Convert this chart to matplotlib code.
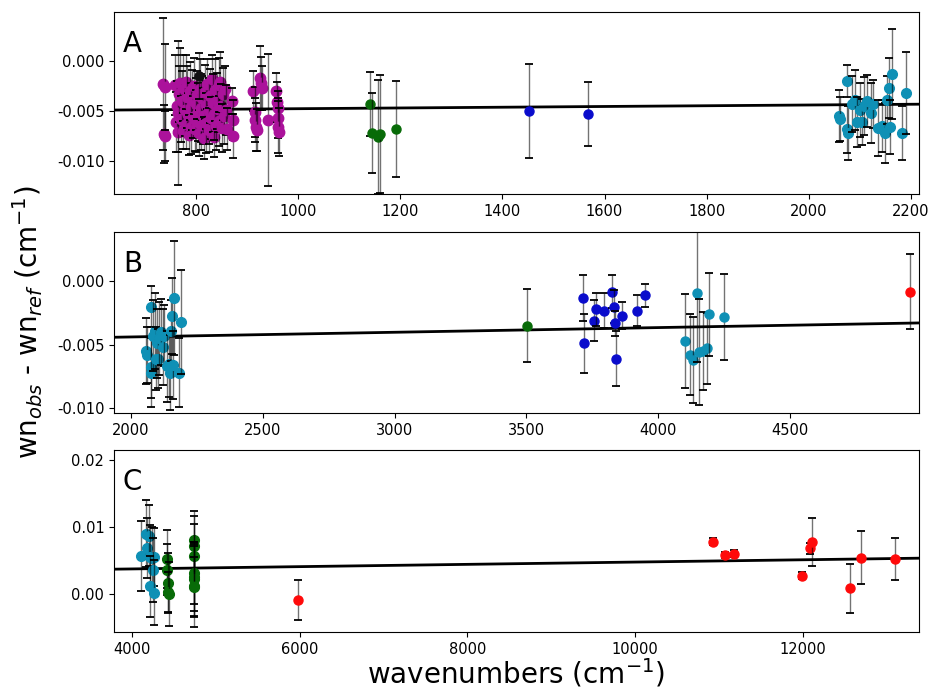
import matplotlib
matplotlib.use("Agg")
import matplotlib.pyplot as plt
from matplotlib.ticker import FormatStrFormatter

# ---------------- data ----------------
# magenta (panel A)
mag_x = [736, 738, 739, 740,
         760, 762, 763, 765, 766, 768, 770, 771, 773, 775, 776, 778, 780, 781, 783, 785,
         786, 788, 790, 791, 793, 795, 796, 798, 800, 801, 803, 805, 806, 808, 810, 811,
         813, 815, 816, 818, 820, 821, 823, 825, 826, 828, 830, 831, 833, 835, 836, 838,
         840, 841, 843, 845, 846, 848, 850, 851, 853, 855, 857, 859, 861,
         871, 872, 873,
         912, 915, 916, 918, 919, 925, 927, 929,
         941,
         958, 959, 960, 960, 961, 962]
mag_y = [-0.0023, -0.0073, -0.0075, -0.0026,
         -0.0024, -0.0061, -0.0045, -0.0071, -0.0052, -0.0033, -0.0022, -0.0058, -0.0040, -0.0070,
         -0.0027, -0.0049, -0.0021, -0.0063, -0.0036, -0.0054,
         -0.0074, -0.0030, -0.0046, -0.0066, -0.0039, -0.0056, -0.0025, -0.0068, -0.0043, -0.0060,
         -0.0034, -0.0051, -0.0072, -0.0028, -0.0047, -0.0064,
         -0.0037, -0.0055, -0.0077, -0.0031, -0.0044, -0.0062, -0.0023, -0.0050, -0.0069, -0.0035,
         -0.0057, -0.0018, -0.0042, -0.0076, -0.0053, -0.0029,
         -0.0065, -0.0040, -0.0048, -0.0024, -0.0060, -0.0021, -0.0045, -0.0067, -0.0033, -0.0055,
         -0.0028, -0.0049, -0.0068,
         -0.0040, -0.0059, -0.0075,
         -0.0030, -0.0051, -0.0059, -0.0066, -0.0069, -0.0017, -0.0022, -0.0027,
         -0.0059,
         -0.0030, -0.0041, -0.0047, -0.0057, -0.0066, -0.0071]
mag_e = [0.0066, 0.0029, 0.0025, 0.0043,
         0.0030, 0.0030, 0.0025, 0.0020, 0.0072, 0.0028, 0.0035, 0.0023, 0.0030, 0.0018,
         0.0033, 0.0026, 0.0027, 0.0025, 0.0031, 0.0022,
         0.0020, 0.0029, 0.0024, 0.0027, 0.0030, 0.0021, 0.0028, 0.0022, 0.0026, 0.0031,
         0.0024, 0.0029, 0.0023, 0.0030, 0.0034, 0.0025,
         0.0022, 0.0028, 0.0021, 0.0027, 0.0024, 0.0030, 0.0025, 0.0033, 0.0022, 0.0027,
         0.0021, 0.0024, 0.0029, 0.0020, 0.0026, 0.0031,
         0.0024, 0.0028, 0.0023, 0.0027, 0.0025, 0.0030, 0.0022, 0.0024, 0.0026, 0.0028,
         0.0023, 0.0025, 0.0021,
         0.0013, 0.0020, 0.0022,
         0.0020, 0.0025, 0.0022, 0.0024, 0.0021, 0.0032, 0.0026, 0.0022,
         0.0066,
         0.0018, 0.0020, 0.0017, 0.0020, 0.0026, 0.0024]

# black (panel A)
blk_x = [806]
blk_y = [-0.0015]
blk_e = [0.0023]

# green (panel A)
grnA_x = [1141, 1144, 1157, 1161, 1192]
grnA_y = [-0.0043, -0.0072, -0.0076, -0.0073, -0.0068]
grnA_e = [0.0032, 0.0040, 0.0057, 0.0059, 0.0048]

# blue (panel A)
bluA_x = [1453, 1568]
bluA_y = [-0.0050, -0.0053]
bluA_e = [0.0047, 0.0032]

# cyan (panels A and B)
cyn_x = [2058, 2061, 2074, 2074, 2077, 2084, 2090, 2094, 2100, 2103, 2107, 2113,
         2122, 2125, 2136, 2143, 2148, 2152, 2156, 2158, 2163, 2183, 2190]
cyn_y = [-0.0055, -0.0058, -0.0020, -0.0068, -0.0072, -0.0043, -0.0039, -0.0061,
         -0.0049, -0.0061, -0.0045, -0.0040, -0.0052, -0.0043, -0.0067, -0.0065,
         -0.0072, -0.0039, -0.0027, -0.0066, -0.0013, -0.0072, -0.0032]
cyn_e = [0.0026, 0.0022, 0.0016, 0.0024, 0.0027, 0.0028, 0.0030, 0.0025, 0.0027,
         0.0023, 0.0029, 0.0026, 0.0030, 0.0024, 0.0028, 0.0026, 0.0030, 0.0024,
         0.0030, 0.0027, 0.0045, 0.0027, 0.0041]

# green (panel B)
grnB_x = [3504]
grnB_y = [-0.0035]
grnB_e = [0.0029]

# blue (panel B)
bluB_x = [3715, 3719, 3756, 3766, 3796, 3827, 3832, 3836, 3842, 3863, 3920, 3949]
bluB_y = [-0.0013, -0.0049, -0.0031, -0.0022, -0.0023, -0.0008, -0.0020, -0.0033,
          -0.0061, -0.0027, -0.0023, -0.0011]
bluB_e = [0.0018, 0.0023, 0.0016, 0.0013, 0.0014, 0.0013, 0.0013, 0.0010, 0.0022,
          0.0011, 0.0012, 0.0009]

# cyan (panel B, right)
cynB_x = [4101, 4123, 4133, 4148, 4155, 4171, 4186, 4195, 4250]
cynB_y = [-0.0047, -0.0058, -0.0062, -0.0009, -0.0056, -0.0055, -0.0053, -0.0026, -0.0028]
cynB_e = [0.0037, 0.0032, 0.0034, 0.0055, 0.0042, 0.0031, 0.0028, 0.0033, 0.0034]

# red (panel B)
redB_x = [4955]
redB_y = [-0.0008]
redB_e = [0.0030]

# cyan (panel C)
cynC_x = [4112, 4172, 4180, 4205, 4215, 4235, 4259, 4251, 4215, 4259]
cynC_y = [0.0057, 0.0090, 0.0068, 0.0087, 0.0055, 0.0053, 0.0055, 0.0036, 0.0011, 0.0002]
cynC_e = [0.0052, 0.0050, 0.0045, 0.0046, 0.0048, 0.0047, 0.0043, 0.0048, 0.0045, 0.0048]

# green (panel C)
grnC_x = [4415, 4420, 4425, 4430, 4440,
          4735, 4738, 4740, 4736, 4742, 4739, 4737, 4741]
grnC_y = [0.0052, 0.0036, 0.0016, 0.0003, 0.0000,
          0.0081, 0.0071, 0.0057, 0.0031, 0.0025, 0.0022, 0.0011, 0.0010]
grnC_e = [0.0043, 0.0038, 0.0045, 0.0030, 0.0048,
          0.0043, 0.0045, 0.0048, 0.0046, 0.0050, 0.0055, 0.0060, 0.0045]

# red (panel C)
redC_x = [5979, 10923, 11066, 11177, 11988, 12079, 12103, 12556, 12688, 13093]
redC_y = [-0.0009, 0.0078, 0.0058, 0.0060, 0.0027, 0.0068, 0.0078, 0.0008, 0.0054, 0.0052]
redC_e = [0.0030, 0.0005, 0.0005, 0.0005, 0.0005, 0.0008, 0.0036, 0.0036, 0.0040, 0.0031]

# linear fits (intercept, slope)
fitAB = (-0.00513, 3.7e-7)
fitC = (0.00304, 1.71e-7)

# colours
C_MAG = '#ab129b'
C_GRN = '#086b08'
C_BLU = '#0a0ccc'
C_CYN = '#0f90b5'
C_RED = '#ff0a0a'
C_BLK = '#111111'

# ---------------- plotting ----------------
fig = plt.figure(figsize=(9.29, 6.91), dpi=100)
L, W = 0.1227, 0.8663
axA = fig.add_axes([L, 0.7190, W, 0.2636])
axB = fig.add_axes([L, 0.4023, W, 0.2619])
axC = fig.add_axes([L, 0.0854, W, 0.2634])

_z = {'n': 0}


def eb(ax, x, y, e, color, ms=6.5):
    # one call per point, stacked so later error bars overlay earlier markers
    for xi, yi, ei in zip(x, y, e):
        _z['n'] += 1
        z = 3 + _z['n'] * 0.001
        line, caps, bars = ax.errorbar([xi], [yi], yerr=[ei], fmt='o', color=color,
                                       ms=ms, ecolor='black', elinewidth=1.0,
                                       capsize=3, capthick=1.3)
        line.set_zorder(z + 0.0005)
        for c in caps:
            c.set_zorder(z)
        for b in bars:
            b.set_alpha(0.55)
            b.set_zorder(z)


def fitline(ax, fit, xlim):
    xs = [xlim[0], xlim[1]]
    ys = [fit[0] + fit[1] * v for v in xs]
    ax.plot(xs, ys, color='black', lw=2.0, zorder=2.5)


# Panel A
xlimA = (640, 2215)
eb(axA, mag_x, mag_y, mag_e, C_MAG, ms=7.5)
eb(axA, blk_x, blk_y, blk_e, C_BLK, ms=6.5)
eb(axA, grnA_x, grnA_y, grnA_e, C_GRN, ms=6.5)
eb(axA, bluA_x, bluA_y, bluA_e, C_BLU, ms=6.5)
eb(axA, cyn_x, cyn_y, cyn_e, C_CYN, ms=7)
fitline(axA, fitAB, xlimA)
axA.set_xlim(*xlimA)
axA.set_ylim(-0.0133, 0.0049)
axA.set_xticks([800, 1000, 1200, 1400, 1600, 1800, 2000, 2200])
axA.set_yticks([-0.010, -0.005, 0.000])
axA.yaxis.set_major_formatter(FormatStrFormatter('%.3f'))

# Panel B
xlimB = (1935, 4990)
eb(axB, cyn_x, cyn_y, cyn_e, C_CYN, ms=7)
eb(axB, grnB_x, grnB_y, grnB_e, C_GRN, ms=6.5)
eb(axB, bluB_x, bluB_y, bluB_e, C_BLU, ms=6.5)
eb(axB, cynB_x, cynB_y, cynB_e, C_CYN, ms=6.5)
eb(axB, redB_x, redB_y, redB_e, C_RED, ms=6.5)
fitline(axB, fitAB, xlimB)
axB.set_xlim(*xlimB)
axB.set_ylim(-0.0104, 0.0039)
axB.set_xticks([2000, 2500, 3000, 3500, 4000, 4500])
axB.set_yticks([-0.010, -0.005, 0.000])
axB.yaxis.set_major_formatter(FormatStrFormatter('%.3f'))

# Panel C
xlimC = (3786, 13380)
eb(axC, cynC_x, cynC_y, cynC_e, C_CYN, ms=7)
eb(axC, grnC_x, grnC_y, grnC_e, C_GRN, ms=7)
eb(axC, redC_x, redC_y, redC_e, C_RED, ms=6.5)
fitline(axC, fitC, xlimC)
axC.set_xlim(*xlimC)
axC.set_ylim(-0.0057, 0.0215)
axC.set_xticks([4000, 6000, 8000, 10000, 12000])
axC.set_yticks([0.00, 0.01, 0.02])
axC.yaxis.set_major_formatter(FormatStrFormatter('%.2f'))

for ax, lab in zip([axA, axB, axC], ['A', 'B', 'C']):
    ax.tick_params(labelsize=10.5)
    ax.text(0.011, 0.9, lab, transform=ax.transAxes, fontsize=20,
            ha='left', va='top')

axC.set_xlabel('wavenumbers (cm$^{-1}$)', fontsize=20, labelpad=0)
fig.text(0.03, 0.534, 'wn$_{obs}$ - wn$_{ref}$ (cm$^{-1}$)', fontsize=20,
         rotation=90, ha='center', va='center')

fig.savefig('out.png', dpi=100)
